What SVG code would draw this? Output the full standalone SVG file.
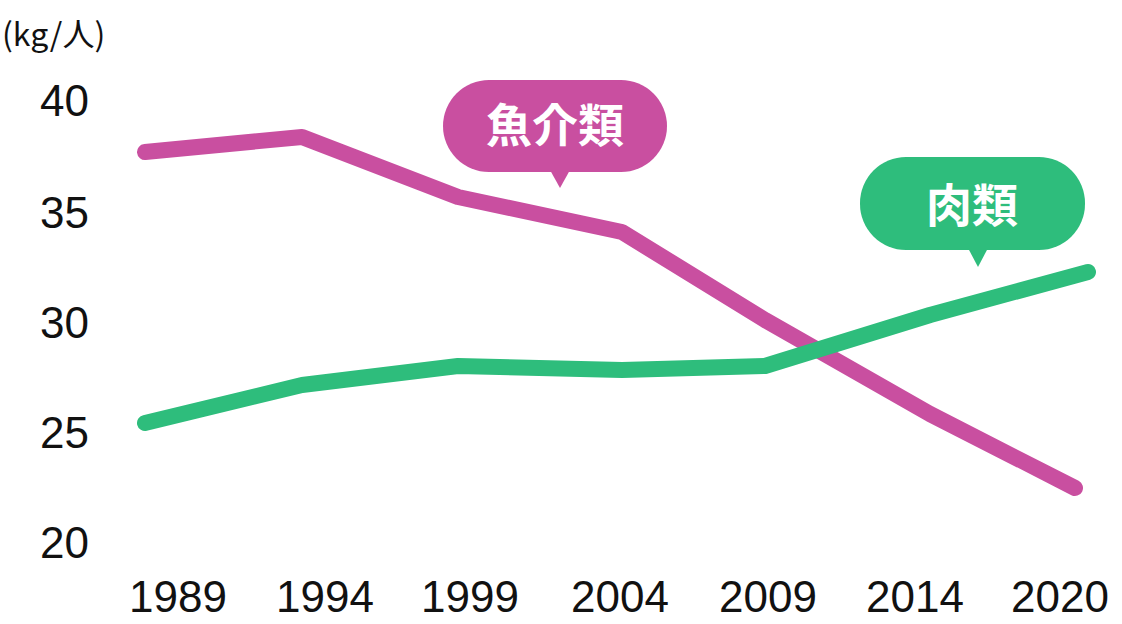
<svg xmlns="http://www.w3.org/2000/svg" width="1122" height="624" viewBox="0 0 1122 624">
<style>
.ax{font-family:"Liberation Sans","Noto Sans CJK JP",sans-serif;font-size:44px;fill:#111}
.ln{fill:none;stroke-width:16;stroke-linecap:round;stroke-linejoin:round}
.lb{font-family:"Noto Sans CJK JP",sans-serif;font-weight:bold;font-size:46px;fill:#fff;text-anchor:middle}
</style>
<rect width="1122" height="624" fill="#fff"/>
<text x="2" y="46" font-family="Noto Sans CJK JP,sans-serif" font-size="32" fill="#111">(kg/人)</text>
<g id="yaxis" class="ax">
<text x="40" y="116">40</text><text x="40" y="228">35</text><text x="40" y="338">30</text><text x="40" y="448">25</text><text x="40" y="558">20</text>
</g>
<g id="xaxis" class="ax" text-anchor="middle">
<text x="178" y="612">1989</text><text x="325" y="612">1994</text><text x="470" y="612">1999</text><text x="620" y="612">2004</text><text x="768" y="612">2009</text><text x="915" y="612">2014</text><text x="1060" y="612">2020</text>
</g>
<g id="connectors">
<polyline class="ln" stroke="#C94FA0" points="145,152 302,137 458,197 622,232 765,320 930,414 1075,488"/>
<polyline class="ln" stroke="#2EBD7C" points="145,423 302,385 458,366 622,370 765,366 930,315 1088,272"/>
</g>
<g id="fish">
<rect x="443" y="80" width="224" height="92" rx="46" fill="#C94FA0"/>
<polygon points="550,170 570,170 560,188" fill="#C94FA0"/>
<text class="lb" x="555" y="142">魚介類</text>
</g>
<g id="meat">
<rect x="860" y="157" width="225" height="93" rx="46" fill="#2EBD7C"/>
<polygon points="968,248 988,248 978,267" fill="#2EBD7C"/>
<text class="lb" x="972" y="222">肉類</text>
</g>
</svg>
